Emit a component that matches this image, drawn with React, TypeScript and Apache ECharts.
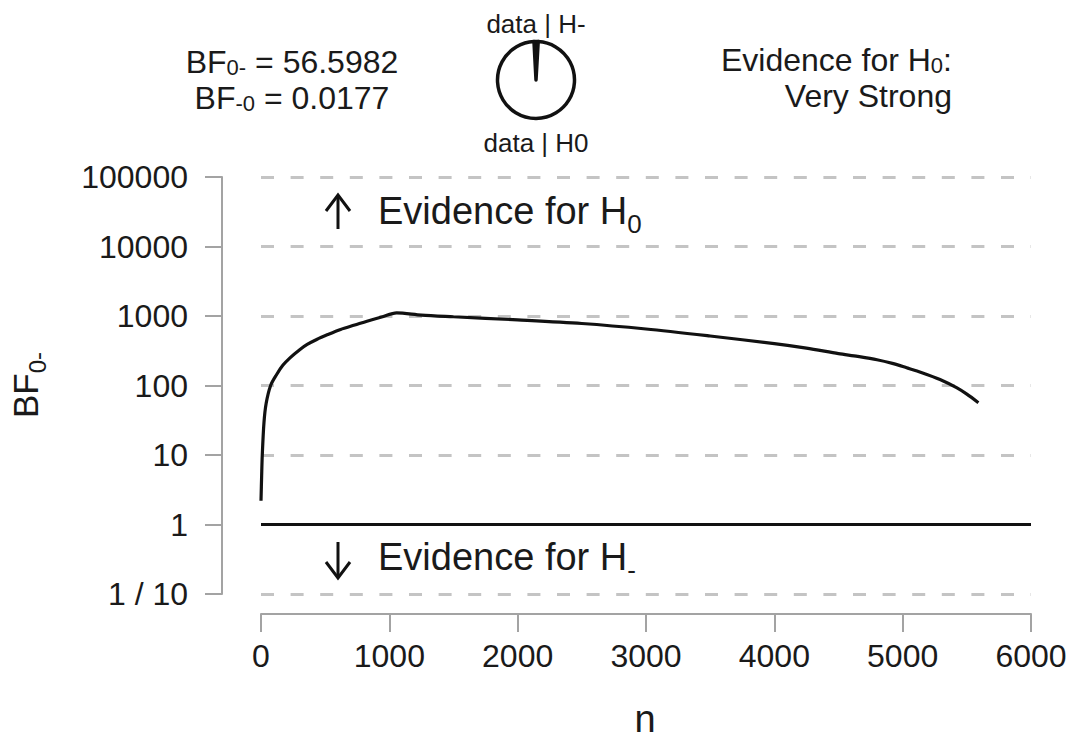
import React, { useEffect, useRef } from "react";
import * as echarts from "echarts";

// ---- data ----
const nValues = [0, 5, 10, 23, 40, 75, 122, 170, 226, 304, 360, 434, 520, 620, 730, 826, 940, 1057, 1250, 1500, 2000, 2500, 3000, 3500, 4000, 4250, 4500, 4650, 4800, 4920, 5031, 5150, 5291, 5420, 5500, 5590];
const bfValues = [2.2, 5, 10, 29, 55, 100, 144, 195, 250, 330, 390, 460, 540, 640, 740, 842, 970, 1110, 1030, 975, 880, 780, 650, 515, 400, 345, 288, 262, 235, 208, 180, 153, 122, 93, 75, 56.6];
const refLineN = [0, 6000];
const refLineBF = [1, 1];
const xTicks = [0, 1000, 2000, 3000, 4000, 5000, 6000];
const yMin = 0.1;
const yMax = 100000;
const pieLabels = ["data | H-", "data | H0"];
const pieValues = [0.0174, 0.9826];
const bfText = ["56.5982", "0.0177"];
const evidenceLevel = "Very Strong";

const FONT = '"Liberation Sans", Arial, Helvetica, sans-serif';
const TXT = "#1a1a1a";

function rich(main: number, sub: number, lineH: number) {
  return {
    m: { fontSize: main, fontFamily: FONT, fill: TXT, lineHeight: lineH, verticalAlign: "middle" },
    s: { fontSize: sub, fontFamily: FONT, fill: TXT, lineHeight: sub, verticalAlign: "bottom" },
  };
}

function txt(x: number, y: number, text: string, r: any, align = "center", rotation = 0) {
  return {
    type: "text",
    x,
    y,
    rotation,
    silent: true,
    style: { text, rich: r, align, verticalAlign: "middle", fill: TXT, fontFamily: FONT },
  };
}

function plain(x: number, y: number, text: string, size: number) {
  return {
    type: "text",
    x,
    y,
    silent: true,
    style: { text, align: "center", verticalAlign: "middle", fill: TXT, fontFamily: FONT, fontSize: size },
  };
}

export default function App() {
  const ref = useRef<HTMLDivElement>(null);
  useEffect(() => {
    const chart = echarts.init(ref.current!, null, { renderer: "svg" });
    const axisGray = "#a3a3a3";
    const arrowStyle = { stroke: "#111", lineWidth: 3, fill: "none" };
    const option: any = {
      animation: false,
      backgroundColor: "#fff",
      grid: { left: 261, right: 41, top: 177, bottom: 146 },
      xAxis: {
        type: "value",
        min: xTicks[0],
        max: xTicks[xTicks.length - 1],
        interval: xTicks[1] - xTicks[0],
        offset: 20,
        axisLine: { show: true, onZero: false, lineStyle: { color: axisGray, width: 2 } },
        axisTick: { show: true, length: 18, lineStyle: { color: axisGray, width: 2 } },
        axisLabel: {
          margin: 26,
          fontSize: 32,
          color: TXT,
          fontFamily: FONT,
          formatter: (v: number) => String(Math.round(v)),
        },
        splitLine: { show: false },
      },
      yAxis: {
        type: "log",
        logBase: 10,
        min: yMin,
        max: yMax,
        offset: 39,
        axisLine: { show: true, onZero: false, lineStyle: { color: axisGray, width: 2 } },
        axisTick: { show: true, length: 17, lineStyle: { color: axisGray, width: 2 } },
        axisLabel: {
          margin: 34,
          fontSize: 32,
          color: TXT,
          fontFamily: FONT,
          formatter: (v: number) => (v < 0.5 ? "1 / 10" : String(Math.round(v))),
        },
        splitLine: { show: true, lineStyle: { color: "#c4c4c4", width: 3, type: [13, 16.6] } },
      },
      series: [
        {
          type: "line",
          data: refLineN.map((n, i) => [n, refLineBF[i]]),
          symbol: "none",
          silent: true,
          lineStyle: { color: "#111", width: 3 },
        },
        {
          type: "line",
          data: nValues.map((n, i) => [n, bfValues[i]]),
          symbol: "none",
          silent: true,
          smooth: 0.3,
          lineStyle: { color: "#111", width: 3.2 },
        },
        {
          type: "pie",
          center: [536, 80],
          radius: 38.5,
          startAngle: 93,
          clockwise: true,
          silent: true,
          label: { show: false },
          labelLine: { show: false },
          emphasis: { disabled: true },
          itemStyle: { borderColor: "#111", borderWidth: 3.5 },
          data: pieValues.map((v, i) => ({
            name: pieLabels[i],
            value: v,
            itemStyle: { color: i === 0 ? "#111" : "#fff" },
          })),
        },
      ],
      graphic: [
        txt(292, 62, `{m|BF}{s|0-}{m| = ${bfText[0]}}`, rich(32, 22, 33)),
        txt(292, 98, `{m|BF}{s|-0}{m| = ${bfText[1]}}`, rich(32, 22, 33)),
        plain(536, 24, pieLabels[0], 26),
        plain(536, 143, pieLabels[1], 26),
        txt(952, 60, "{m|Evidence for H}{s|0}{m|:}", rich(32, 22, 32), "right"),
        txt(952, 96, `{m|${evidenceLevel}}`, rich(32, 22, 28), "right"),
        txt(378, 211, "{m|Evidence for H}{s|0}", rich(38, 26, 52), "left"),
        txt(378, 557, "{m|Evidence for H}{s|-}", rich(38, 26, 52), "left"),
        txt(25, 385, "{m|BF}{s|0-}", rich(35, 24, 48), "center", Math.PI / 2),
        txt(645, 719, "{m|n}", rich(38, 24, 38), "center"),
        // arrows
        { type: "line", silent: true, shape: { x1: 338, y1: 229, x2: 338, y2: 195 }, style: arrowStyle },
        { type: "polyline", silent: true, shape: { points: [[326, 211], [338, 195], [350, 211]] }, style: arrowStyle },
        { type: "line", silent: true, shape: { x1: 338, y1: 542, x2: 338, y2: 578 }, style: arrowStyle },
        { type: "polyline", silent: true, shape: { points: [[326, 562], [338, 578], [350, 562]] }, style: arrowStyle },
      ],
    };
    chart.setOption(option);
    return () => chart.dispose();
  }, []);
  return (
    <div
      ref={ref}
      style={{ position: "fixed", left: 0, top: 0, width: 1072, height: 740, background: "#fff" }}
    />
  );
}
